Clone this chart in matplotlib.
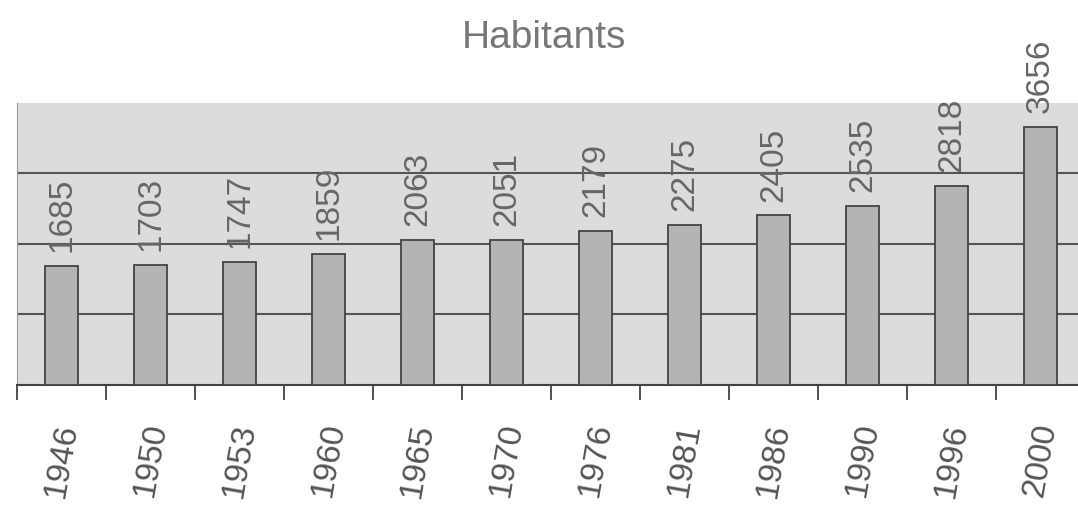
import numpy as np
import matplotlib.pyplot as plt

plt.rcParams['font.family'] = ['Liberation Sans', 'DejaVu Sans']

annees = ['1946', '1950', '1953', '1960', '1965', '1970', '1976', '1981', '1986', '1990', '1996', '2000']
habitants = [1685, 1703, 1747, 1859, 2063, 2051, 2179, 2275, 2405, 2535, 2818, 3656]

fig = plt.figure(figsize=(10.78, 5.07), dpi=100)
ax = fig.add_axes([0.0158, 0.2406, 0.9907, 0.5564])
ax.set_facecolor('#dcdcdc')

x = np.arange(len(annees))
ax.bar(x, habitants, width=0.37, color='#b4b4b4', edgecolor='#444444', linewidth=1.3, zorder=3)

for xi, v in zip(x, habitants):
    ax.annotate(str(v), (xi, v), xytext=(0, 10), textcoords='offset points',
                rotation=90, ha='center', va='bottom', fontsize=24, color='#666666')

ax.set_xlim(-0.5, len(annees) - 0.5)
ax.set_ylim(0, 4000)
ax.set_yticks([1000, 2000, 3000])
ax.yaxis.grid(True, color='#555555', linewidth=1.5, zorder=1)
ax.tick_params(axis='y', left=False, labelleft=False)

ax.set_xticks(x)
ax.set_xticklabels(annees, rotation=80, fontsize=24, color='#555555')
ax.tick_params(axis='x', which='major', length=0, pad=26)
ax.set_xticks(x - 0.5, minor=True)
ax.tick_params(axis='x', which='minor', length=11, width=1.3, color='#444444', direction='out')

for s in ['top', 'right']:
    ax.spines[s].set_visible(False)
ax.spines['left'].set_color('#999999')
ax.spines['bottom'].set_color('#444444')
ax.spines['bottom'].set_linewidth(1.5)

fig.text(0.505, 0.925, 'Habitants', ha='center', va='center', fontsize=28, color='#777777')

plt.savefig('out.png', dpi=100)
